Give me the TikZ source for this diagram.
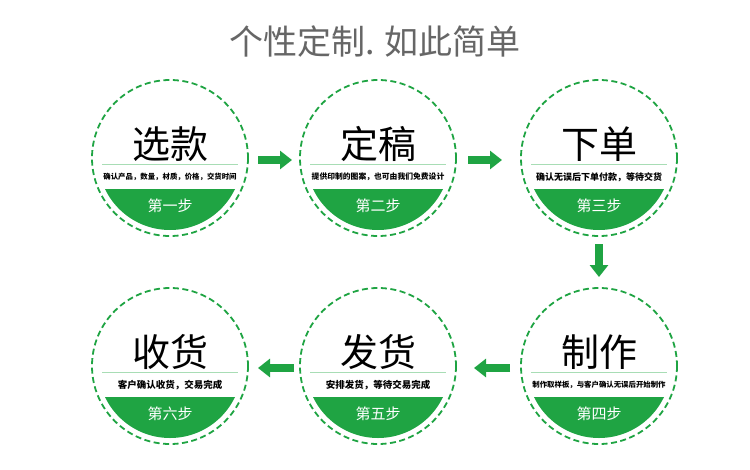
\documentclass[tikz,border=0pt]{standalone}
\usepackage{fontspec}
\setmainfont{Noto Sans CJK SC}
\definecolor{g}{HTML}{1FA443}
\definecolor{lg}{HTML}{A8DDB5}
\tikzset{x=1pt,y=-1pt,
 ring/.style={draw=g,dashed,line width=1.8pt,dash pattern=on 6pt off 3.5pt},
 arr/.style={-{Triangle[length=12pt,width=18pt]},line width=8pt,draw=g}}
\usetikzlibrary{arrows.meta}
\newcommand\stepcirc[6]{%
 \begin{scope}[shift={(#1,#2)}]
 \draw[ring] (0,0) circle (78);
 \begin{scope}
 \clip (0,0) circle (72);
 \fill[g] (-80,31) rectangle (80,80);
 \end{scope}
 \draw[lg,line width=0.8pt] (-68,6) -- (68,6);
 \node (#6) at (0,-14) {\fontsize{38}{38}\selectfont #3};
 \node at (0,19) {\fontsize{#5}{9}\selectfont\bfseries #4};
 \end{scope}}
\begin{document}
\begin{tikzpicture}
\useasboundingbox (0,0) rectangle (750,469);
\node[text=black!60] (t) at (375,42) {\fontsize{34}{34}\selectfont 个性定制. 如此简单};
\stepcirc{170}{158}{选款}{确认产品，数量，材质，价格，交货时间}{7.4}{a}
\stepcirc{378}{158}{定稿}{提供印制的图案，也可由我们免费设计}{7.8}{b}
\stepcirc{599}{158}{下单}{确认无误后下单付款，等待交货}{9}{c}
\stepcirc{599}{366}{制作}{制作取样板，与客户确认无误后开始制作}{7.4}{d}
\stepcirc{378}{366}{发货}{安排发货，等待交易完成}{9.5}{e}
\stepcirc{170}{366}{收货}{客户确认收货，交易完成}{9.5}{f}
\foreach \s/\l/\x/\y in {1/第一步/170/158,2/第二步/378/158,3/第三步/599/158,4/第四步/599/366,5/第五步/378/366,6/第六步/170/366}
 \node[text=white] (s\s) at (\x,\y+48) {\fontsize{15}{15}\selectfont \l};
\coordinate (p1) at (258,160); \coordinate (p2) at (292,160);
\coordinate (p3) at (468,160); \coordinate (p4) at (502,160);
\coordinate (p5) at (599,244); \coordinate (p6) at (599,277);
\coordinate (p7) at (510,368); \coordinate (p8) at (474,368);
\coordinate (p9) at (294,368); \coordinate (p10) at (258,368);
\draw[arr] (p1) -- (p2); \draw[arr] (p3) -- (p4); \draw[arr] (p5) -- (p6);
\draw[arr] (p7) -- (p8); \draw[arr] (p9) -- (p10);
\end{tikzpicture}
\end{document}
